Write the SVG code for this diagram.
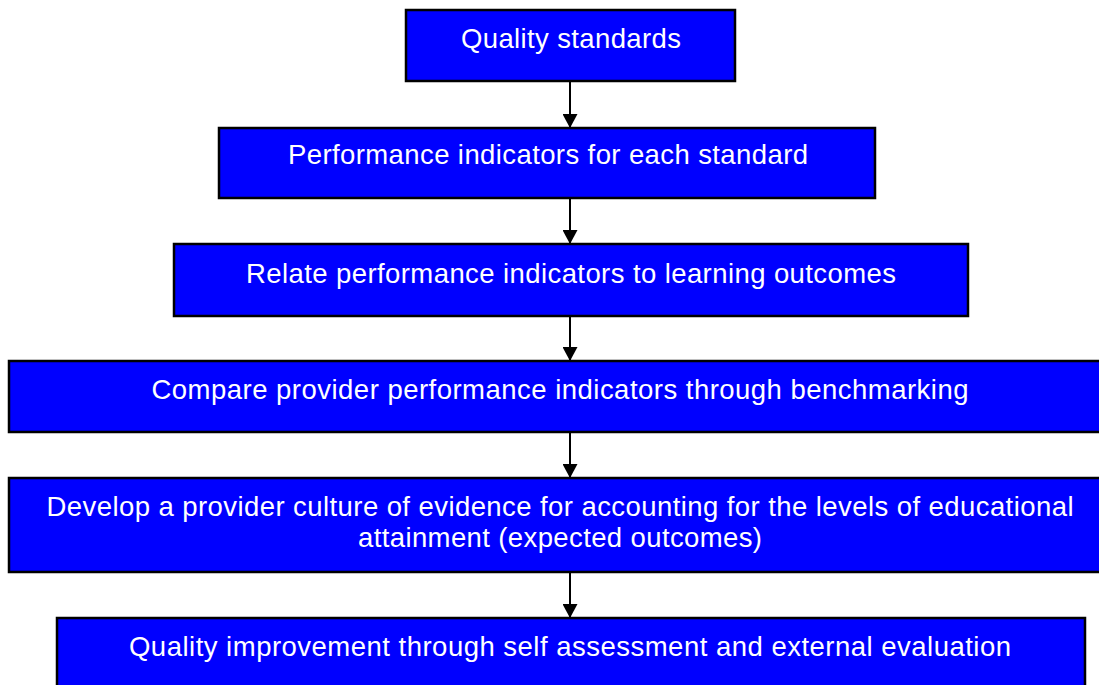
<svg xmlns="http://www.w3.org/2000/svg" width="1099" height="685" viewBox="0 0 1099 685">
<style>
.box{fill:#0000FF;stroke:#000;stroke-width:2.5}
.t{fill:#fff;font-family:"Liberation Sans",Arial,sans-serif;font-size:27.5px;text-anchor:middle}
.c{stroke:#000;stroke-width:2;fill:none}
</style>
<defs>
<marker id="ah" markerWidth="15" markerHeight="15" refX="14" refY="7.5" orient="auto" markerUnits="userSpaceOnUse">
<path d="M0,0 L14,7.5 L0,15 Z" fill="#000"/>
</marker>
</defs>
<rect width="1099" height="685" fill="#fff"/>
<g id="connectors">
<line class="c" x1="570" y1="81" x2="570" y2="128" marker-end="url(#ah)"/>
<line class="c" x1="570" y1="198" x2="570" y2="244" marker-end="url(#ah)"/>
<line class="c" x1="570" y1="316" x2="570" y2="361" marker-end="url(#ah)"/>
<line class="c" x1="570" y1="432" x2="570" y2="478" marker-end="url(#ah)"/>
<line class="c" x1="570" y1="572" x2="570" y2="618" marker-end="url(#ah)"/>
</g>
<g id="n1">
<rect class="box" x="406" y="10" width="329" height="71"/>
<text class="t" x="571" y="48" textLength="220" lengthAdjust="spacing">Quality standards</text>
</g>
<g id="n2">
<rect class="box" x="219" y="128" width="656" height="70"/>
<text class="t" x="548" y="164" textLength="520" lengthAdjust="spacing">Performance indicators for each standard</text>
</g>
<g id="n3">
<rect class="box" x="174" y="244" width="794" height="72"/>
<text class="t" x="571" y="283" textLength="650" lengthAdjust="spacing">Relate performance indicators to learning outcomes</text>
</g>
<g id="n4">
<rect class="box" x="9" y="361" width="1102" height="71"/>
<text class="t" x="560" y="399" textLength="817" lengthAdjust="spacing">Compare provider performance indicators through benchmarking</text>
</g>
<g id="n5">
<rect class="box" x="9" y="478" width="1102" height="94"/>
<text class="t" x="560" y="516" textLength="1027" lengthAdjust="spacing">Develop a provider culture of evidence for accounting for the levels of educational</text>
<text class="t" x="560" y="547" textLength="404" lengthAdjust="spacing">attainment (expected outcomes)</text>
</g>
<g id="n6">
<rect class="box" x="57" y="618" width="1028" height="72"/>
<text class="t" x="570" y="656" textLength="882" lengthAdjust="spacing">Quality improvement through self assessment and external evaluation</text>
</g>
</svg>
